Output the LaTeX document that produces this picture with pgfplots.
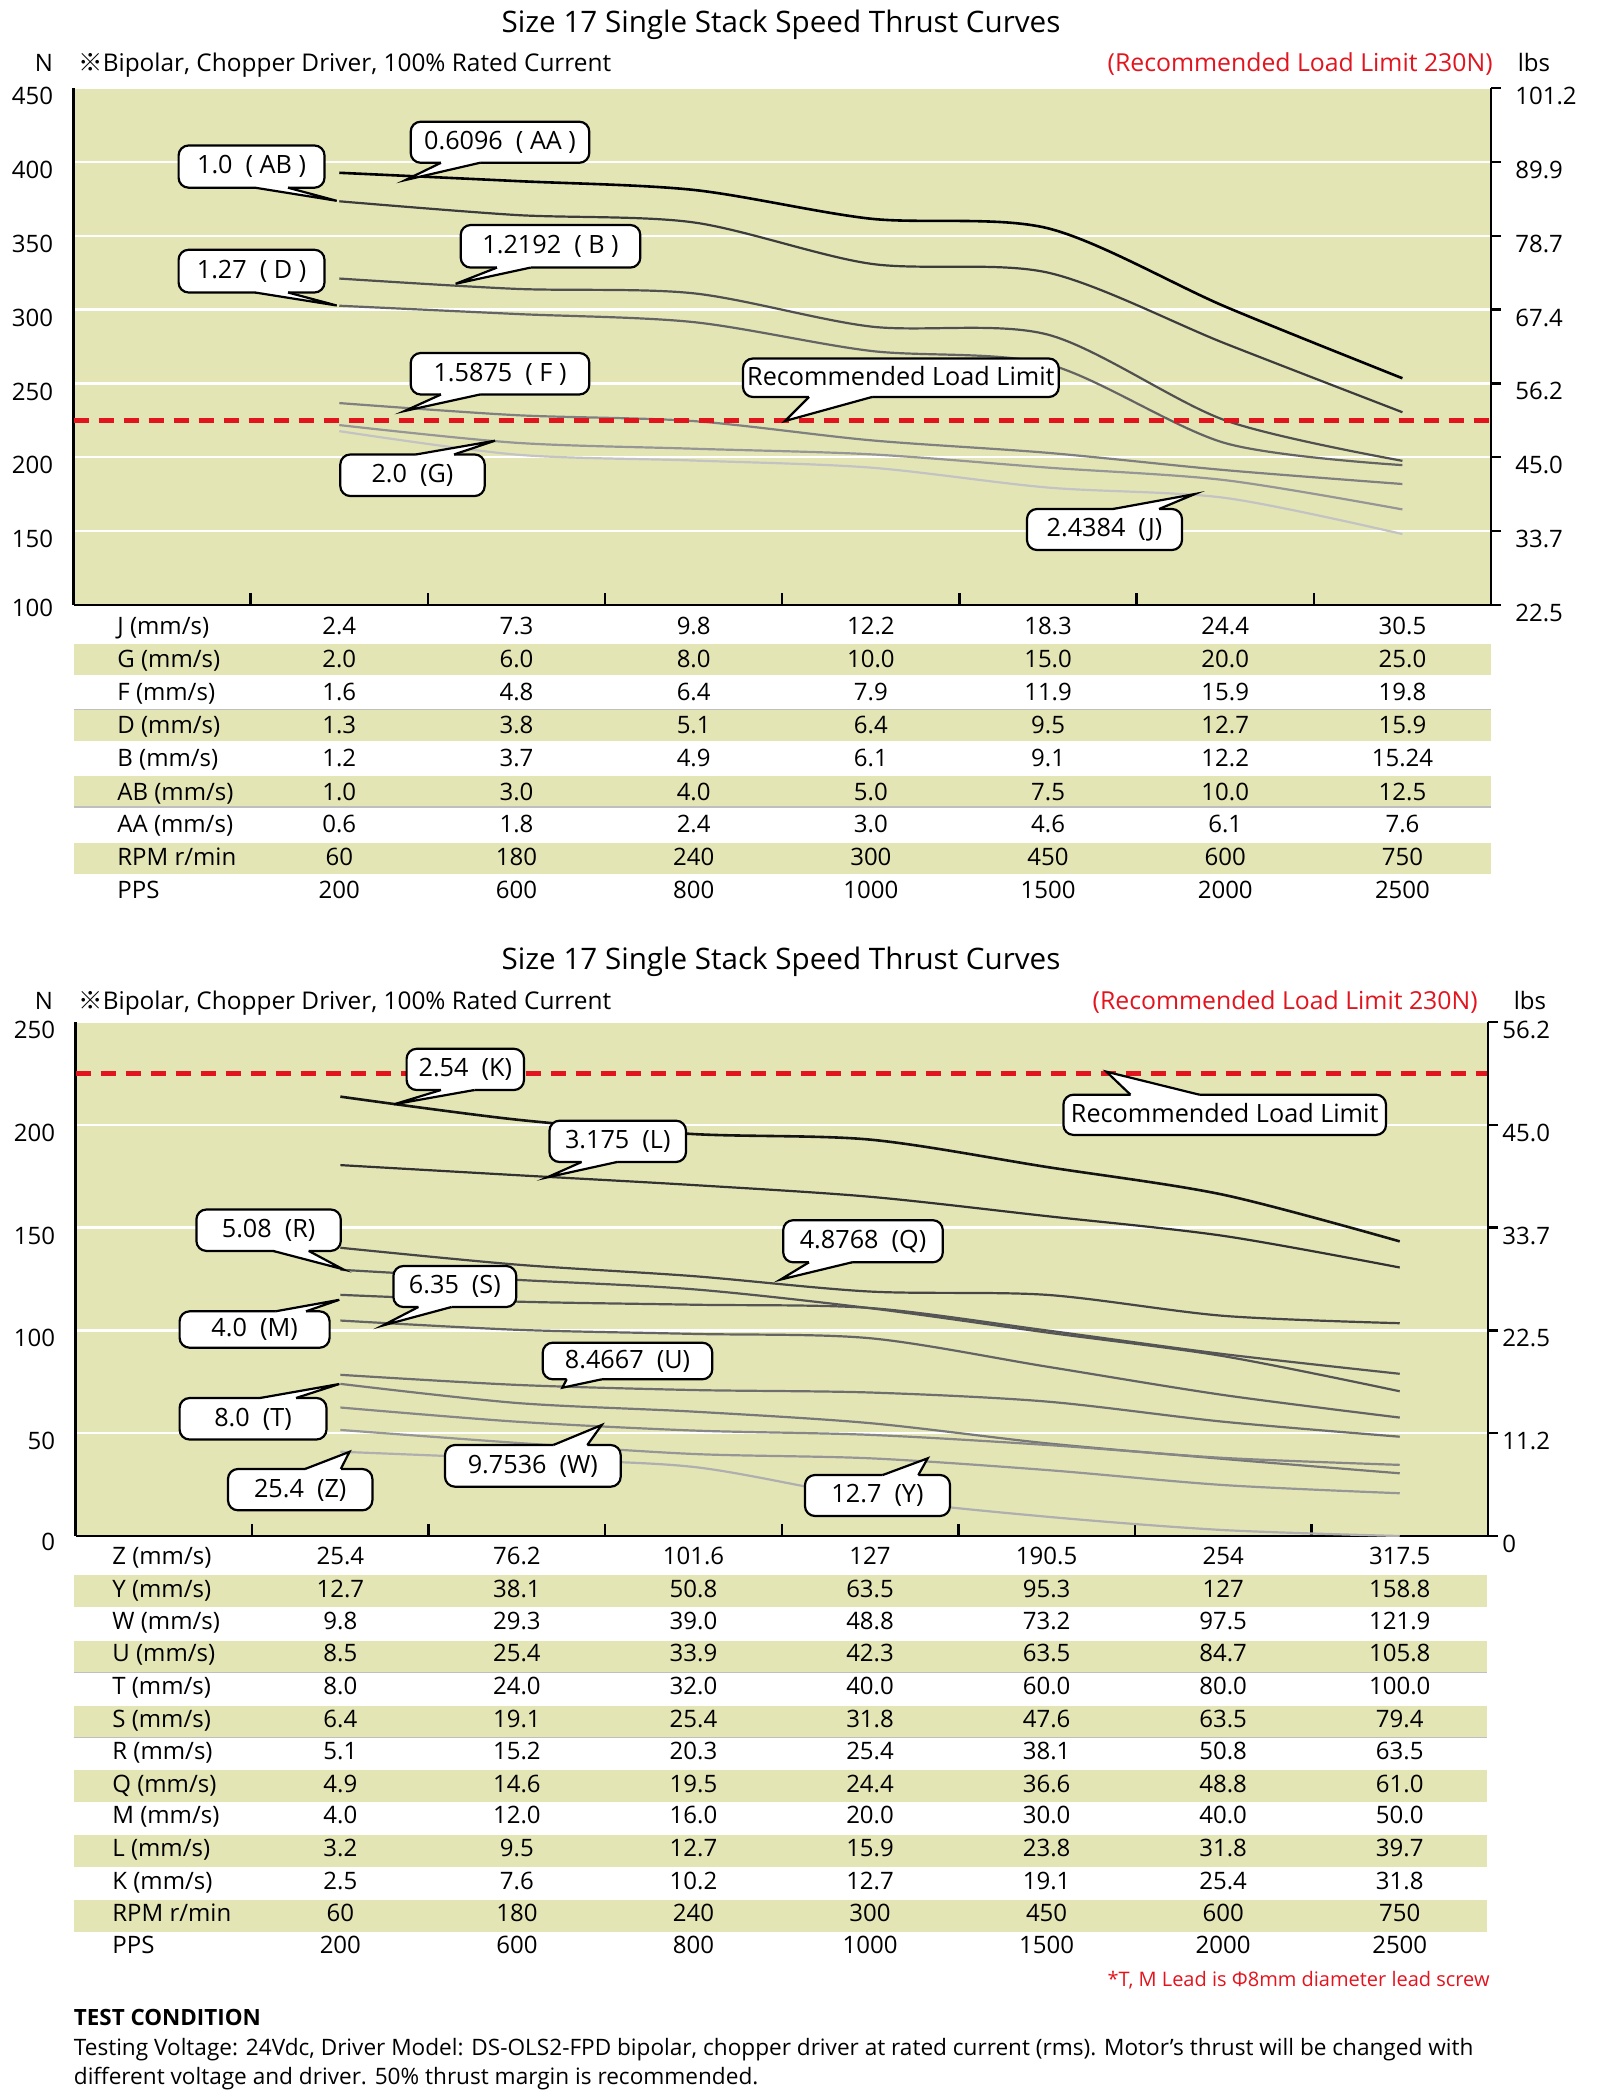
\documentclass[border=0pt]{standalone}
\usepackage{fontspec}
\setmainfont{Open Sans}
\newfontfamily\cjk{Noto Sans CJK JP}
\usepackage{pgfplots}
\pgfplotsset{compat=1.18}
\definecolor{bg}{RGB}{228,229,181}
\definecolor{lred}{RGB}{226,20,30}
\newcommand\tabfont{\fontsize{12}{14}\selectfont}
\newcommand\callfont{\fontsize{12.6}{14}\selectfont}
\newcommand\tickfont{\fontsize{12}{14}\selectfont}
\newcommand\callout[9]{%
  \pgfmathsetmacro\cmid{(#2+#4)/2}%
  \pgfmathsetmacro\byin{ifthenelse(#8>\cmid,#8-4,#8+4)}%
  \draw[fill=white,line width=1.1pt,rounded corners=5pt] (#1,#2) rectangle (#3,#4);
  \fill[white] (#6,\byin) -- (#6,#8) -- (#9) -- (#7,#8) -- (#7,\byin) -- cycle;
  \draw[line width=1.1pt] (#6,#8) -- (#9) -- (#7,#8);
  \node[font=\callfont,anchor=mid] at ({(#1+#3)/2},\cmid+2) {#5};
}
\newcommand\trow[6]{% x0, colw, y, label, labelx, values
  \node[anchor=mid west,font=\tabfont,inner sep=0pt] at (#5,#3+2) {#4};
  \foreach \v [count=\i] in {#6} {\node[anchor=mid,font=\tabfont,inner sep=0pt] at ({#1+(\i+0.5)*#2},#3+2) {\v};}
}
\pgfplotsset{
 leftax/.style={anchor=south west, scale only axis, xmin=0, xmax=8,
   axis background/.style={fill=bg}, axis x line*=bottom, axis y line*=left,
   axis line style={-,line width=1.2pt,black}, xtick={1,...,7}, xticklabels={},
   major tick length=6pt, tick align=inside, xtick style={line width=1.2pt,black},
   ytick style={draw=none}, ymajorgrids, grid style={white,line width=1.2pt},
   yticklabel style={font=\tickfont, anchor=east, inner sep=0pt, xshift=-10pt, yshift=-4pt}},
 rightax/.style={anchor=south west, scale only axis, xmin=0, xmax=8,
   axis x line=none, axis y line*=right, axis line style={-,line width=1.2pt,black},
   tick align=outside, major tick length=5pt, ytick style={line width=1.2pt,black},
   yticklabel style={font=\tickfont, anchor=west, inner sep=0pt, yshift=-4pt}},
 crv/.style={smooth, no markers, line width=1.1pt},
 lim/.style={no markers, color=lred, line width=2.2pt, dash pattern=on 7.5pt off 5pt},
}
\begin{document}
\begin{tikzpicture}
\useasboundingbox (0,0) rectangle (800pt,-1048pt);
% ---------------- TOP CHART ----------------
\begin{axis}[leftax, at={(36.75pt,-302.5pt)}, width=708.75pt, height=258.5pt,
  ymin=100, ymax=450, ytick={100,150,...,450},
  yticklabels={\raisebox{5pt}{100},150,200,250,300,350,400,450}]
\addplot[crv, color=black, line width=1.3pt] coordinates {(1.5,392.6)(2.5,387)(3.5,381)(4.5,361.5)(5.5,355)(6.5,302)(7.5,253.5)};
\addplot[crv, color={rgb,255:red,60;green,60;blue,60}] coordinates {(1.5,373.3)(2.5,364)(3.5,359)(4.5,331)(5.5,325)(6.5,277)(7.5,230.5)};
\addplot[crv, color={rgb,255:red,80;green,80;blue,80}] coordinates {(1.5,321)(2.5,314)(3.5,311)(4.5,288.5)(5.5,283)(6.5,225)(7.5,197.6)};
\addplot[crv, color={rgb,255:red,100;green,100;blue,100}] coordinates {(1.5,302.6)(2.5,297)(3.5,291.5)(4.5,272)(5.5,263)(6.5,209.6)(7.5,194.7)};
\addplot[crv, color={rgb,255:red,128;green,128;blue,128}] coordinates {(1.5,236.7)(2.5,228.5)(3.5,224.5)(4.5,211.5)(5.5,203)(6.5,191.3)(7.5,181.9)};
\addplot[crv, color={rgb,255:red,150;green,150;blue,150}] coordinates {(1.5,221.8)(2.5,209.8)(3.5,205.8)(4.5,202)(5.5,193)(6.5,184.5)(7.5,164.7)};
\addplot[crv, color={rgb,255:red,195;green,195;blue,195}] coordinates {(1.5,217.7)(2.5,201.8)(3.5,197.8)(4.5,193)(5.5,179.5)(6.5,172.5)(7.5,148)};
\addplot[lim] coordinates {(0,225)(8,225)};
\end{axis}
\begin{axis}[rightax, at={(36.75pt,-302.5pt)}, width=708.75pt, height=258.5pt,
  ymin=100, ymax=450, ytick={100,150,...,450},
  yticklabels={22.5,33.7,45.0,56.2,67.4,78.7,89.9,101.2},
  yticklabel style={xshift=7pt}]
\addplot[draw=none] coordinates {(0,100)};
\end{axis}
% ---------------- BOTTOM CHART ----------------
\begin{axis}[leftax, at={(37.75pt,-768pt)}, width=706.25pt, height=257pt,
  ymin=0, ymax=250, ytick={0,50,...,250},
  yticklabels={\raisebox{2pt}{0},50,100,150,200,250}]
\addplot[crv, color={rgb,255:red,20;green,20;blue,20}, line width=1.3pt] coordinates {(1.5,213.7)(2.5,202.5)(3.5,195.5)(4.5,192.8)(5.5,179.5)(6.5,166)(7.5,143.3)};
\addplot[crv, color={rgb,255:red,50;green,50;blue,50}] coordinates {(1.5,180.4)(2.5,175.5)(3.5,170.7)(4.5,165)(5.5,155.6)(6.5,146)(7.5,130.6)};
\addplot[crv, color={rgb,255:red,70;green,70;blue,70}] coordinates {(1.5,140.2)(2.5,132)(3.5,126.4)(4.5,118.9)(5.5,117.3)(6.5,107.1)(7.5,103.5)};
\addplot[crv, color={rgb,255:red,85;green,85;blue,85}] coordinates {(1.5,129.5)(2.5,124.6)(3.5,120)(4.5,110.8)(5.5,99)(6.5,87.5)(7.5,70.4)};
\addplot[crv, color={rgb,255:red,85;green,85;blue,85}] coordinates {(1.5,117.3)(2.5,114)(3.5,112.5)(4.5,110.9)(5.5,100)(6.5,88.5)(7.5,78.9)};
\addplot[crv, color={rgb,255:red,100;green,100;blue,100}] coordinates {(1.5,104.8)(2.5,100.3)(3.5,98.3)(4.5,96.2)(5.5,82.4)(6.5,68.6)(7.5,57.6)};
\addplot[crv, color={rgb,255:red,110;green,110;blue,110}] coordinates {(1.5,78.4)(2.5,73.5)(3.5,71)(4.5,69.8)(5.5,65.4)(6.5,55.6)(7.5,48.3)};
\addplot[crv, color={rgb,255:red,120;green,120;blue,120}] coordinates {(1.5,74)(2.5,64.7)(3.5,60.5)(4.5,54.9)(5.5,45.1)(6.5,37.5)(7.5,30.5)};
\addplot[crv, color={rgb,255:red,135;green,135;blue,135}] coordinates {(1.5,62.5)(2.5,55.6)(3.5,51.3)(4.5,49.2)(5.5,44.3)(6.5,38)(7.5,34.6)};
\addplot[crv, color={rgb,255:red,150;green,150;blue,150}] coordinates {(1.5,51.6)(2.5,45.3)(3.5,39.9)(4.5,37.8)(5.5,32.1)(6.5,24.8)(7.5,20.8)};
\addplot[crv, color={rgb,255:red,175;green,175;blue,175}] coordinates {(1.5,41)(2.5,37.5)(3.5,33.6)(4.5,18.5)(5.5,9.4)(6.5,2.9)(7.5,0)};
\addplot[lim] coordinates {(0,225)(8,225)};
\end{axis}
\begin{axis}[rightax, at={(37.75pt,-768pt)}, width=706.25pt, height=257pt,
  ymin=0, ymax=250, ytick={0,50,...,250},
  yticklabels={0,11.2,22.5,33.7,45.0,56.2},
  yticklabel style={xshift=2pt}]
\addplot[draw=none] coordinates {(0,100)};
\end{axis}
% ---------------- ANNOTATIONS, TABLES ----------------
\begin{scope}[x=0.5pt,y=-0.5pt]
% titles top
\node[font=\fontsize{14.8}{18}\selectfont,anchor=mid] at (781,27) {Size 17 Single Stack Speed Thrust Curves};
\node[font=\fontsize{12}{14}\selectfont,anchor=mid] at (44,66) {N};
\node[font=\fontsize{12.2}{14}\selectfont,anchor=mid west,inner sep=0pt] at (78,66) {{\cjk ※}Bipolar, Chopper Driver, 100\% Rated Current};
\node[font=\fontsize{12.4}{14}\selectfont,anchor=mid east,inner sep=0pt,text=lred] at (1493,66) {(Recommended Load Limit 230N)};
\node[font=\fontsize{12}{14}\selectfont,anchor=mid] at (1534,66) {lbs};
% titles bottom
\node[font=\fontsize{14.8}{18}\selectfont,anchor=mid] at (781,964) {Size 17 Single Stack Speed Thrust Curves};
\node[font=\fontsize{12}{14}\selectfont,anchor=mid] at (44,1004) {N};
\node[font=\fontsize{12.2}{14}\selectfont,anchor=mid west,inner sep=0pt] at (78,1004) {{\cjk ※}Bipolar, Chopper Driver, 100\% Rated Current};
\node[font=\fontsize{12.4}{14}\selectfont,anchor=mid east,inner sep=0pt,text=lred] at (1478,1004) {(Recommended Load Limit 230N)};
\node[font=\fontsize{12}{14}\selectfont,anchor=mid] at (1530,1004) {lbs};
% callouts top
\callout{410.7}{121.7}{589.3}{162.8}{0.6096 ~( AA )}{441}{480}{162.8}{405.6,180}
\callout{178.6}{145.5}{324.5}{187.7}{1.0 ~( AB )}{255}{288}{187.7}{336.7,200.8}
\callout{460.7}{225}{640.3}{267.6}{1.2192 ~( B )}{497}{530.6}{267.6}{455.6,283.8}
\callout{178.6}{249.8}{324.5}{292.5}{1.27 ~( D )}{255}{288}{292.5}{336.7,305.5}
\callout{410.7}{353}{589.3}{394.5}{1.5875 ~( F )}{441}{480}{394.5}{404.6,411}
\callout{340.3}{454.5}{484.7}{496}{2.0 ~(G)}{415.8}{454}{454.5}{495,440.7}
\callout{743}{358.5}{1058.8}{397}{Recommended Load Limit}{809}{872}{397}{785,421}
\callout{1027}{509}{1182}{550}{2.4384 ~(J)}{1113}{1159}{509}{1195,494}
% callouts bottom
\callout{406.6}{1048.8}{524}{1090}{2.54 ~(K)}{441}{474.5}{1090}{394,1104.3}
\callout{549.5}{1120.7}{686}{1162}{3.175 ~(L)}{581.6}{617}{1162}{547,1177.4}
\callout{196.4}{1209.5}{340.8}{1250.9}{5.08 ~(R)}{273}{308.7}{1250.9}{342.9,1269.2}
\callout{393.4}{1266}{516.3}{1307}{6.35 ~(S)}{418.4}{451.5}{1307}{382.7,1325.5}
\callout{179.6}{1311.3}{329.6}{1347.7}{4.0 ~(M)}{275.5}{306}{1311.3}{339.3,1299.8}
\callout{542.7}{1342.7}{712.3}{1379.3}{8.4667 ~(U)}{566.7}{601.7}{1379.3}{562.3,1387.7}
\callout{179.6}{1398}{326.5}{1439.5}{8.0 ~(T)}{260}{296}{1398}{339.3,1384}
\callout{445}{1445}{620.7}{1486.7}{9.7536 ~(W)}{553.3}{587.3}{1445}{601.7,1425}
\callout{228}{1469}{372.4}{1510.3}{25.4 ~(Z)}{305}{340.8}{1469}{349.5,1451.8}
\callout{783.2}{1220.2}{942.8}{1262.3}{4.8768 ~(Q)}{809}{852}{1262.3}{780.4,1279.6}
\callout{805}{1475}{950}{1516}{12.7 ~(Y)}{882.7}{918.3}{1475}{927.7,1458.3}
\callout{1063.4}{1094.7}{1386}{1134.9}{Recommended Load Limit}{1130.5}{1199.4}{1094.7}{1106.4,1071.7}
% top table
\fill[bg] (73.5,643.5) rectangle (1491,674.5);
\fill[bg] (73.5,709.5) rectangle (1491,740.5);
\fill[bg] (73.5,776) rectangle (1491,807);
\fill[bg] (73.5,843) rectangle (1491,874);
\draw[black!25,line width=0.6pt] (73.5,709.5) -- (1491,709.5);
\draw[black!25,line width=0.6pt] (73.5,807) -- (1491,807);
\trow{73.5}{177.19}{626.7}{J (mm/s)}{117}{2.4,7.3,9.8,12.2,18.3,24.4,30.5}
\trow{73.5}{177.19}{660}{G (mm/s)}{117}{2.0,6.0,8.0,10.0,15.0,20.0,25.0}
\trow{73.5}{177.19}{692.7}{F (mm/s)}{117}{1.6,4.8,6.4,7.9,11.9,15.9,19.8}
\trow{73.5}{177.19}{726}{D (mm/s)}{117}{1.3,3.8,5.1,6.4,9.5,12.7,15.9}
\trow{73.5}{177.19}{759.3}{B (mm/s)}{117}{1.2,3.7,4.9,6.1,9.1,12.2,15.24}
\trow{73.5}{177.19}{792.7}{AB (mm/s)}{117}{1.0,3.0,4.0,5.0,7.5,10.0,12.5}
\trow{73.5}{177.19}{825.3}{AA (mm/s)}{117}{0.6,1.8,2.4,3.0,4.6,6.1,7.6}
\trow{73.5}{177.19}{858.3}{RPM r/min}{117}{60,180,240,300,450,600,750}
\trow{73.5}{177.19}{890.7}{PPS}{117}{200,600,800,1000,1500,2000,2500}
% bottom table
\fill[bg] (73.5,1575) rectangle (1487,1607);
\fill[bg] (73.5,1640.5) rectangle (1487,1672.5);
\fill[bg] (73.5,1705.5) rectangle (1487,1737.5);
\fill[bg] (73.5,1770) rectangle (1487,1802);
\fill[bg] (73.5,1835) rectangle (1487,1867);
\fill[bg] (73.5,1900) rectangle (1487,1932);
\draw[black!25,line width=0.6pt] (73.5,1672.5) -- (1487,1672.5);
\draw[black!25,line width=0.6pt] (73.5,1737.5) -- (1487,1737.5);
\trow{75.5}{176.56}{1556.8}{Z (mm/s)}{112}{25.4,76.2,101.6,127,190.5,254,317.5}
\trow{75.5}{176.56}{1589.8}{Y (mm/s)}{112}{12.7,38.1,50.8,63.5,95.3,127,158.8}
\trow{75.5}{176.56}{1622.2}{W (mm/s)}{112}{9.8,29.3,39.0,48.8,73.2,97.5,121.9}
\trow{75.5}{176.56}{1654}{U (mm/s)}{112}{8.5,25.4,33.9,42.3,63.5,84.7,105.8}
\trow{75.5}{176.56}{1687.3}{T (mm/s)}{112}{8.0,24.0,32.0,40.0,60.0,80.0,100.0}
\trow{75.5}{176.56}{1720.4}{S (mm/s)}{112}{6.4,19.1,25.4,31.8,47.6,63.5,79.4}
\trow{75.5}{176.56}{1752.4}{R (mm/s)}{112}{5.1,15.2,20.3,25.4,38.1,50.8,63.5}
\trow{75.5}{176.56}{1784.7}{Q (mm/s)}{112}{4.9,14.6,19.5,24.4,36.6,48.8,61.0}
\trow{75.5}{176.56}{1816.3}{M (mm/s)}{112}{4.0,12.0,16.0,20.0,30.0,40.0,50.0}
\trow{75.5}{176.56}{1849}{L (mm/s)}{112}{3.2,9.5,12.7,15.9,23.8,31.8,39.7}
\trow{75.5}{176.56}{1882}{K (mm/s)}{112}{2.5,7.6,10.2,12.7,19.1,25.4,31.8}
\trow{75.5}{176.56}{1914}{RPM r/min}{112}{60,180,240,300,450,600,750}
\trow{75.5}{176.56}{1946.5}{PPS}{112}{200,600,800,1000,1500,2000,2500}
% footnotes
\node[font=\fontsize{10}{12}\selectfont,anchor=mid east,inner sep=0pt,text=lred] at (1490,1981) {*T, M Lead is Φ8mm diameter lead screw};
\node[font=\fontsize{11.2}{13}\selectfont\bfseries,anchor=mid west,inner sep=0pt] at (73.5,2020) {TEST CONDITION};
\node[font=\fontsize{11.3}{13}\selectfont,anchor=mid west,inner sep=0pt] at (73.5,2050) {Testing Voltage: 24Vdc, Driver Model: DS-OLS2-FPD bipolar, chopper driver at rated current (rms). Motor's thrust will be changed with};
\node[font=\fontsize{11.3}{13}\selectfont,anchor=mid west,inner sep=0pt] at (73.5,2079) {different voltage and driver. 50\% thrust margin is recommended.};
\end{scope}
\end{tikzpicture}
\end{document}
